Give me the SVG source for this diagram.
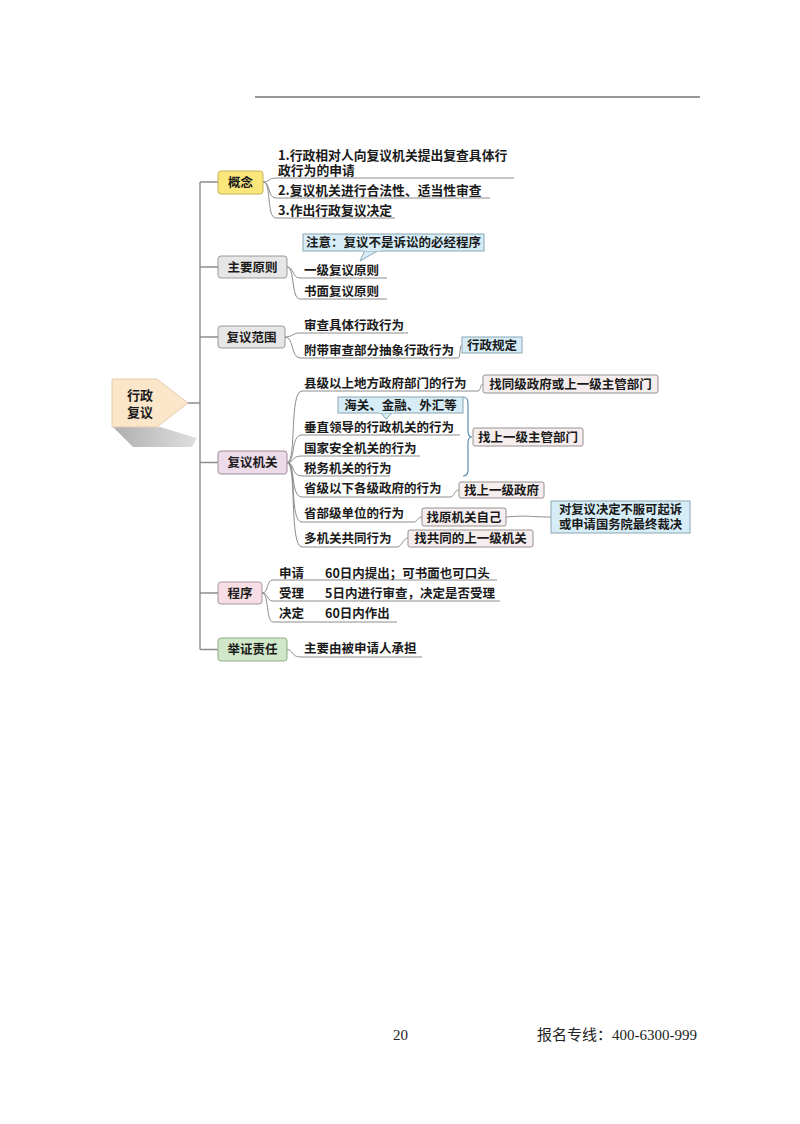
<svg xmlns="http://www.w3.org/2000/svg" width="800" height="1124" viewBox="0 0 800 1124">
<defs>
<linearGradient id="shd" x1="0" y1="0" x2="1" y2="0">
<stop offset="0" stop-color="#9a9a9a"/>
<stop offset="1" stop-color="#d8d8d8"/>
</linearGradient>
<style>
text{font-family:"Noto Sans CJK SC","Noto Sans",sans-serif;font-size:12.5px;font-weight:bold;fill:#1a1a1a}
.c{text-anchor:middle}
.ln{fill:none;stroke:#8c8c8c;stroke-width:1}
.tr{fill:none;stroke:#8c8c8c;stroke-width:1.4}
.gray{fill:#e6e6e6;stroke:#9a9a9a;stroke-width:1}
.blue{fill:#d6edf7;stroke:#8aa6b2;stroke-width:1}
.pk{fill:#f6eeee;stroke:#9a9090;stroke-width:1}
.ft{font-family:"Liberation Serif","Noto Sans CJK SC",serif;font-size:15px;font-weight:normal;fill:#222}
</style>
</defs>
<rect width="800" height="1124" fill="#ffffff"/>
<line x1="255" y1="97" x2="700" y2="97" stroke="#333" stroke-width="1"/>

<g id="connectors">
<path class="tr" d="M188 403 H200 M200 182 V649.5 M200 182 H218 M200 267 H218 M200 337 H218 M200 462.5 H218 M200 593 H218 M200 649.5 H218"/>
<path class="ln" d="M263 182 C270 182 268 178 276 178 H514"/>
<path class="ln" d="M263 182 C271 182 267 198 276 198 H490"/>
<path class="ln" d="M263 182 C272 182 266 218 276 218 H395"/>
<path class="ln" d="M287 267 C294 267 292 278 300 278 H387"/>
<path class="ln" d="M287 267 C295 267 291 299 300 299 H387"/>
<path class="ln" d="M285 337 C293 337 292 333 300 333 H408"/>
<path class="ln" d="M285 337 C294 337 291 358 300 358 H458"/>
<path class="ln" d="M458 358 C461 358 459 345 462 345"/>
<path class="ln" d="M287 462.5 C297 462.5 289 391 302 391 H478"/>
<path class="ln" d="M287 462.5 C296 462.5 290 435 302 435 H460"/>
<path class="ln" d="M287 462.5 C295 462.5 291 456 302 456 H420"/>
<path class="ln" d="M287 462.5 C295 462.5 291 476 302 476 H390"/>
<path class="ln" d="M287 462.5 C296 462.5 290 497 302 497 H450"/>
<path class="ln" d="M287 462.5 C297 462.5 289 522 302 522 H413"/>
<path class="ln" d="M287 462.5 C297 462.5 289 547 302 547 H397"/>
<path class="ln" d="M478 391 C481 391 480 384 483 384"/>
<path class="ln" d="M450 497 C455 497 454 490 459 490"/>
<path class="ln" d="M413 522 C418 522 417 517 422 517"/>
<path class="ln" d="M397 547 C402 547 403 538 408 538"/>
<path class="ln" d="M506 517 C530 515 527 517 551 517"/>
<path d="M463 397 Q468 397 468 403 V431 Q468 437 472 437 Q468 437 468 443 V470 Q468 476 463 476" fill="none" stroke="#5b8fae" stroke-width="1.2"/>
<path class="ln" d="M262 593 C269 593 266 580 273 580 H497"/>
<path class="ln" d="M262 593 C268 593 267 601 273 601 H500"/>
<path class="ln" d="M262 593 C269 593 266 622 273 622 H397"/>
<path class="ln" d="M287 649.5 C293 649.5 292 657 300 657 H422"/>
</g>

<g id="root">
<polygon points="113,427 160,427 197,438 192,447 133,447" fill="url(#shd)" opacity="0.8"/>
<polygon points="112,379 157,379 188,403 157,427 112,427" fill="#fce6c9" stroke="#e2cdb0" stroke-width="1"/>
<text x="140" y="399.5" class="c" style="font-size:13px">行政<tspan x="140" dy="17">复议</tspan></text>
</g>

<g id="n-gainian">
<rect x="218" y="171" width="45" height="23" rx="3" fill="#fbe67c" stroke="#c6b25a"/>
<text x="240.5" y="186.5" class="c">概念</text>
</g>
<g id="n-gainian-1"><text x="278" y="159.5" style="font-size:12.8px">1.行政相对人向复议机关提出复查具体行<tspan x="278" dy="15">政行为的申请</tspan></text></g>
<g id="n-gainian-2"><text x="278" y="194.5" style="font-size:12.8px">2.复议机关进行合法性、适当性审查</text></g>
<g id="n-gainian-3"><text x="278" y="214.5" style="font-size:12.8px">3.作出行政复议决定</text></g>

<g id="n-yuanze">
<rect x="218" y="256" width="69" height="22" rx="3" class="gray"/>
<text x="252.5" y="271.5" class="c">主要原则</text>
</g>
<g id="n-note">
<polygon points="365,250 379,250 360,261" fill="#d6edf7" stroke="#8aa6b2"/>
<rect x="303" y="234" width="181" height="17" class="blue"/>
<rect x="364" y="249" width="16" height="2" fill="#d6edf7"/>
<text x="393.5" y="247" class="c">注意：复议不是诉讼的必经程序</text>
</g>
<g id="n-yuanze-1"><text x="304" y="274.5">一级复议原则</text></g>
<g id="n-yuanze-2"><text x="304" y="295.5">书面复议原则</text></g>

<g id="n-fanwei">
<rect x="218" y="326" width="67" height="22" rx="3" class="gray"/>
<text x="251.5" y="341.5" class="c">复议范围</text>
</g>
<g id="n-fanwei-1"><text x="304" y="329.5">审查具体行政行为</text></g>
<g id="n-fanwei-2"><text x="304" y="354.5">附带审查部分抽象行政行为</text></g>
<g id="n-guiding">
<rect x="462" y="337" width="60" height="16" class="blue"/>
<text x="492" y="349.5" class="c">行政规定</text>
</g>

<g id="n-jiguan">
<rect x="218" y="451" width="69" height="23" rx="3" fill="#eddbe9" stroke="#9e8c9a"/>
<text x="252.5" y="467" class="c">复议机关</text>
</g>
<g id="n-jg-1"><text x="304" y="387.5">县级以上地方政府部门的行为</text></g>
<g id="n-jg-1a">
<rect x="483" y="375" width="175" height="18" rx="2" class="pk"/>
<text x="570.5" y="388.5" class="c">找同级政府或上一级主管部门</text>
</g>
<g id="n-haiguan">
<polygon points="380,412 393,412 386,419" fill="#d6edf7" stroke="#8aa6b2"/>
<rect x="338" y="397" width="125" height="16" class="blue"/>
<rect x="379" y="411" width="15" height="2" fill="#d6edf7"/>
<text x="400.5" y="409.5" class="c">海关、金融、外汇等</text>
</g>
<g id="n-jg-2"><text x="304" y="431.5">垂直领导的行政机关的行为</text></g>
<g id="n-jg-3"><text x="304" y="452.5">国家安全机关的行为</text></g>
<g id="n-jg-4"><text x="304" y="472.5">税务机关的行为</text></g>
<g id="n-jg-brace">
<rect x="473" y="428" width="110" height="18" rx="2" class="pk"/>
<text x="528" y="441.5" class="c">找上一级主管部门</text>
</g>
<g id="n-jg-5"><text x="304" y="493">省级以下各级政府的行为</text></g>
<g id="n-jg-5a">
<rect x="459" y="482" width="85" height="16" rx="2" class="pk"/>
<text x="501.5" y="494.5" class="c">找上一级政府</text>
</g>
<g id="n-jg-6"><text x="304" y="517.5">省部级单位的行为</text></g>
<g id="n-jg-6a">
<rect x="422" y="508" width="84" height="18" rx="2" class="pk"/>
<text x="464" y="521.5" class="c">找原机关自己</text>
</g>
<g id="n-jg-6b">
<rect x="551" y="501" width="139" height="32" class="blue"/>
<text x="620.5" y="513.5" class="c" style="font-size:12.3px">对复议决定不服可起诉<tspan x="620.5" dy="15">或申请国务院最终裁决</tspan></text>
</g>
<g id="n-jg-7"><text x="304" y="543">多机关共同行为</text></g>
<g id="n-jg-7a">
<rect x="408" y="530" width="125" height="17" rx="2" class="pk"/>
<text x="470.5" y="543" class="c">找共同的上一级机关</text>
</g>

<g id="n-chengxu">
<rect x="218" y="582" width="44" height="22" rx="3" fill="#f7dde4" stroke="#a9959b"/>
<text x="240" y="597.5" class="c">程序</text>
</g>
<g id="n-cx-1"><text x="279" y="577.5">申请</text><text x="325" y="577.5">60日内提出；可书面也可口头</text></g>
<g id="n-cx-2"><text x="279" y="597.5">受理</text><text x="325" y="597.5">5日内进行审查，决定是否受理</text></g>
<g id="n-cx-3"><text x="279" y="617.5">决定</text><text x="325" y="617.5">60日内作出</text></g>

<g id="n-juzheng">
<rect x="218" y="638" width="69" height="23" rx="3" fill="#d0e8c9" stroke="#8fab86"/>
<text x="252.5" y="654" class="c">举证责任</text>
</g>
<g id="n-jz-1"><text x="304" y="653">主要由被申请人承担</text></g>

<g id="footer">
<text x="393" y="1040" class="ft">20</text>
<text x="537" y="1040" class="ft">报名专线：400-6300-999</text>
</g>
</svg>
